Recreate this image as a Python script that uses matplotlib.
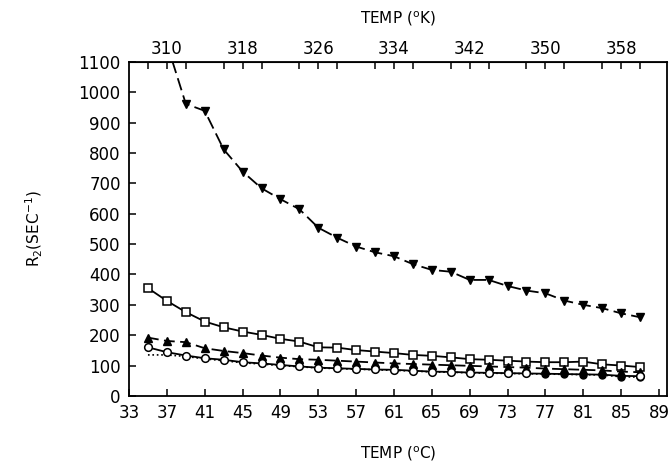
import numpy as np
import matplotlib.pyplot as plt
from matplotlib.ticker import MultipleLocator

# temperatures in degrees C
temp_c = [35, 37, 39, 41, 43, 45, 47, 49, 51, 53, 55, 57, 59, 61,
          63, 65, 67, 69, 71, 73, 75, 77, 79, 81, 83, 85, 87]

# R2 values (sec^-1)
r2_down_tri = [None, 1160, 962, 939, 812, 739, 684, 648, 615, 554, 521, 492, 473, 460,
               434, 415, 409, 382, 382, 362, 347, 338, 314, 300, 289, 272, 259]
r2_square = [355, 313, 276, 245, 226, 212, 201, 188, 179, 160, 159, 151, 146, 141,
             135, 132, 127, 121, 119, 116, 113, 111, 111, 113, 104, 100, 95]
r2_up_tri = [192, 181, 177, 157, 148, 141, 133, 126, 121, 119, 116, 113, 110, 107,
             105, 103, 101, 99, 97, 95, 93, 90, 88, 86, 84, 80, 78]
r2_circle = [160, 144, 133, 124, 119, 111, 107, 102, 97, 93, 91, 89, 87, 86,
             83, 80, 79, 77, 76, 75, 74, 73, 72, 71, 70, 66, 65]
r2_dot = [135, 135, 130, 122, 116, 109, 105, 100, 96, 92, 90, 88, 86, 84,
          82, 79, 78, 76, 75, 74, 73, 72, 71, 70, 69, 63, 62]

plt.rcParams['font.family'] = 'DejaVu Sans'

fig = plt.figure(figsize=(6.72, 4.73), dpi=100)
ax = fig.add_axes([0.192, 0.163, 0.8006, 0.706])

x = np.array(temp_c, dtype=float)
dn = np.array([np.nan if v is None else v for v in r2_down_tri], dtype=float)

ax.plot(x, dn, color='black', lw=1.3, dashes=(7, 3), marker='v', ms=5.5,
        mfc='black', mec='black')
ax.plot(x, r2_square, color='black', lw=1.3, marker='s', ms=5.5,
        mfc='white', mec='black', mew=1.1)
ax.plot(x, r2_dot, color='black', lw=1.2, ls=':', marker='o', ms=5,
        mfc='black', mec='black', markevery=list(range(21, 27)))
ax.plot(x, r2_up_tri, color='black', lw=1.3, dashes=(6, 3), marker='^', ms=5.5,
        mfc='black', mec='black')
ax.plot(x, r2_circle, color='black', lw=1.3, marker='o', ms=5.5,
        mfc='white', mec='black', mew=1.1, markevery=list(range(0, 21)) + [26])

ax.set_xlim(33, 89.85)
ax.set_ylim(0, 1100)
ax.set_xticks(np.arange(33, 90, 4))
ax.set_yticks(np.arange(0, 1101, 100))
ax.tick_params(axis='both', direction='in', length=5, width=1.1, labelsize=12,
               pad=6)
ax.tick_params(axis='x', top=False)
for s in ax.spines.values():
    s.set_linewidth(1.3)

ax.set_xlabel(r'TEMP ($^{\rm o}$C)', fontsize=11, labelpad=16)
ax.set_ylabel(r'R$_2$(SEC$^{-1}$)', fontsize=11, labelpad=24)

top = ax.secondary_xaxis('top', functions=(lambda c: c + 273, lambda k: k - 273))
top.set_xticks(np.arange(310, 359, 8))
top.xaxis.set_minor_locator(MultipleLocator(4))
top.tick_params(which='both', direction='in', length=5, width=1.1, labelsize=12,
                pad=3)
top.set_xlabel(r'TEMP ($^{\rm o}$K)', fontsize=11, labelpad=12)

fig.savefig('out.png', dpi=100)
